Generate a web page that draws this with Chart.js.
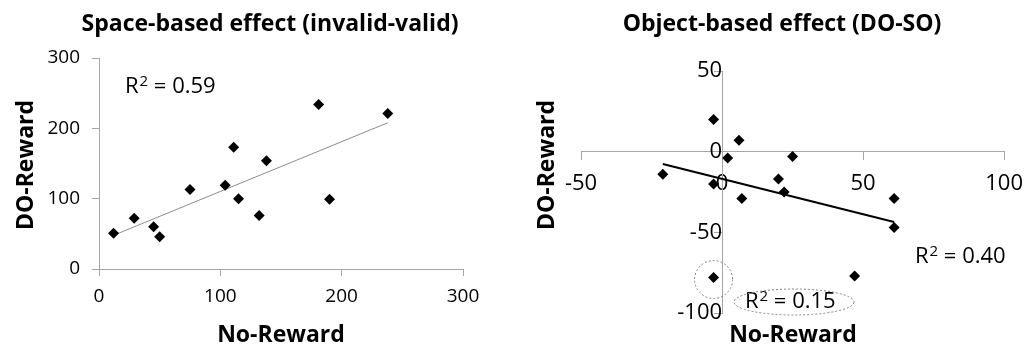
<!DOCTYPE html>
<html>
<head>
<meta charset="utf-8">
<script src="https://cdn.jsdelivr.net/npm/chart.js@4.4.1/dist/chart.umd.min.js"></script>
<style>
  html, body { margin: 0; padding: 0; background: #fff; }
  .wrap { position: relative; width: 1034px; height: 350px; }
  #spaceChart { position: absolute; left: 0; top: 0; }
  #objectChart { position: absolute; left: 500px; top: 0; }
</style>
</head>
<body>
<div class="wrap">
  <canvas id="spaceChart" width="500" height="350"></canvas>
  <canvas id="objectChart" width="534" height="350"></canvas>
</div>
<script>
// ═══ data ═══
// Space-based effect (invalid-valid)
const spaceNoReward = [12, 29, 45, 50, 75, 104, 111, 115, 132, 138, 181, 190, 238];
const spaceDoReward = [51, 72, 60, 46, 113, 119, 173, 100, 76, 154, 234, 99, 221];
const spaceTicks = [0, 100, 200, 300];

// Object-based effect (DO-SO)
const objectNoReward = [-3, 6, 2, 25, -21, -3, 20, 22, 7, 61, 61, -3, 47];
const objectDoReward = [20, 7, -4, -3, -14, -20, -17, -25, -29, -29, -47, -78, -77];
const objectTicksX = [-50, 0, 50, 100];
const objectTicksY = [-100, -50, 0, 50];
const objectOutlier = 11; // circled subject

const FONT = '"Open Sans", Lato, sans-serif';
const AXIS_GREY = '#a6a6a6';

Chart.defaults.font.family = FONT;
Chart.defaults.color = '#000';

function toPoints(xs, ys) {
    return xs.map((x, i) => ({ x: x, y: ys[i] }));
}

// least squares fit, drawn between the smallest and largest x
function trendLine(xs, ys) {
    const n = xs.length;
    const mx = xs.reduce((a, b) => a + b, 0) / n;
    const my = ys.reduce((a, b) => a + b, 0) / n;
    let sxy = 0, sxx = 0;
    xs.forEach((x, i) => {
        sxy += (x - mx) * (ys[i] - my);
        sxx += (x - mx) * (x - mx);
    });
    const b = sxy / sxx;
    const a = my - b * mx;
    const lo = Math.min(...xs), hi = Math.max(...xs);
    return [{ x: lo, y: a + b * lo }, { x: hi, y: a + b * hi }];
}

function axis(ticks, size, tickLen, pad, extra) {
    return Object.assign({
        type: 'linear',
        min: ticks[0],
        max: ticks[ticks.length - 1],
        afterBuildTicks: s => { s.ticks = ticks.map(v => ({ value: v })); },
        grid: { drawOnChartArea: false, color: AXIS_GREY, tickLength: tickLen },
        border: { display: true, color: AXIS_GREY, width: 1 },
        ticks: { font: { size: size }, color: '#000', padding: pad }
    }, extra);
}

// "R² = 0.59" with a real raised 2
function drawRSquared(ctx, value, x, y) {
    ctx.font = '22px ' + FONT;
    ctx.fillText('R', x, y);
    let cx = x + ctx.measureText('R').width + 1;
    ctx.font = '15px ' + FONT;
    ctx.fillText('2', cx, y - 7);
    cx += ctx.measureText('2').width;
    ctx.font = '22px ' + FONT;
    ctx.fillText(' = ' + value, cx, y);
}

// titles + R² notes drawn on top of the chart
function panelText(cfg) {
    return {
        id: 'panelText',
        afterDraw(chart) {
            const ctx = chart.ctx;
            ctx.save();
            ctx.fillStyle = '#000';
            ctx.textAlign = 'center';
            ctx.textBaseline = 'alphabetic';
            ctx.font = 'bold 23px ' + FONT;
            ctx.fillText(cfg.title, cfg.titleX, 31);
            ctx.fillText('No-Reward', cfg.xTitleX, 342);
            ctx.save();
            ctx.translate(cfg.yTitleX, 165);
            ctx.rotate(-Math.PI / 2);
            ctx.fillText('DO-Reward', 0, 0);
            ctx.restore();

            ctx.textAlign = 'left';
            cfg.notes.forEach(n => drawRSquared(ctx, n.value, n.x, n.y));

            ctx.strokeStyle = '#808080';
            ctx.lineWidth = 1;
            ctx.setLineDash([2, 2]);
            (cfg.rings || []).forEach(r => {
                const c = r.at ? r.at(chart) : r;
                ctx.beginPath();
                ctx.ellipse(c.x, c.y, r.rx, r.ry, 0, 0, Math.PI * 2);
                ctx.stroke();
            });
            ctx.restore();
        }
    };
}

const diamond = {
    pointStyle: 'rectRot',
    pointRadius: 5.5,
    pointHoverRadius: 5.5,
    backgroundColor: '#000',
    borderColor: '#000',
    borderWidth: 0
};

// ─── left: space-based effect ───
new Chart(document.getElementById('spaceChart'), {
    type: 'scatter',
    data: {
        datasets: [
            Object.assign({ data: toPoints(spaceNoReward, spaceDoReward) }, diamond),
            {
                data: trendLine(spaceNoReward, spaceDoReward),
                showLine: true,
                pointRadius: 0,
                borderColor: '#8c8c8c',
                borderWidth: 1
            }
        ]
    },
    options: {
        responsive: false,
        animation: false,
        layout: { padding: { top: 58, right: 37, left: 0, bottom: 0 } },
        plugins: { legend: { display: false }, tooltip: { enabled: false } },
        scales: {
            x: axis(spaceTicks, 19, 7, 9, { afterFit: s => { s.height = 81; } }),
            y: axis(spaceTicks, 19, 7, 12, { afterFit: s => { s.width = 99; } })
        }
    },
    plugins: [panelText({
        title: 'Space-based effect (invalid-valid)',
        titleX: 270, xTitleX: 281, yTitleX: 33,
        notes: [{ value: '0.59', x: 125, y: 93 }]
    })]
});

// ─── right: object-based effect ───
new Chart(document.getElementById('objectChart'), {
    type: 'scatter',
    data: {
        datasets: [
            Object.assign({ data: toPoints(objectNoReward, objectDoReward) }, diamond),
            {
                data: trendLine(objectNoReward, objectDoReward),
                showLine: true,
                pointRadius: 0,
                borderColor: '#000',
                borderWidth: 2
            }
        ]
    },
    options: {
        responsive: false,
        animation: false,
        layout: { padding: { top: 71, right: 28, left: 81, bottom: 37 } },
        plugins: { legend: { display: false }, tooltip: { enabled: false } },
        scales: {
            x: axis(objectTicksX, 22, 8, 11, { position: { y: 0 } }),
            y: axis(objectTicksY, 22, 8, 17, { position: { x: 0 } })
        }
    },
    plugins: [panelText({
        title: 'Object-based effect (DO-SO)',
        titleX: 282, xTitleX: 293, yTitleX: 54,
        notes: [
            { value: '0.40', x: 415, y: 263 },
            { value: '0.15', x: 245, y: 308 }
        ],
        rings: [
            {
                rx: 19, ry: 19,
                at: c => ({
                    x: c.scales.x.getPixelForValue(objectNoReward[objectOutlier]),
                    y: c.scales.y.getPixelForValue(objectDoReward[objectOutlier]) + 2
                })
            },
            { x: 294, y: 302, rx: 60, ry: 13 }
        ]
    })]
});
</script>
</body>
</html>
